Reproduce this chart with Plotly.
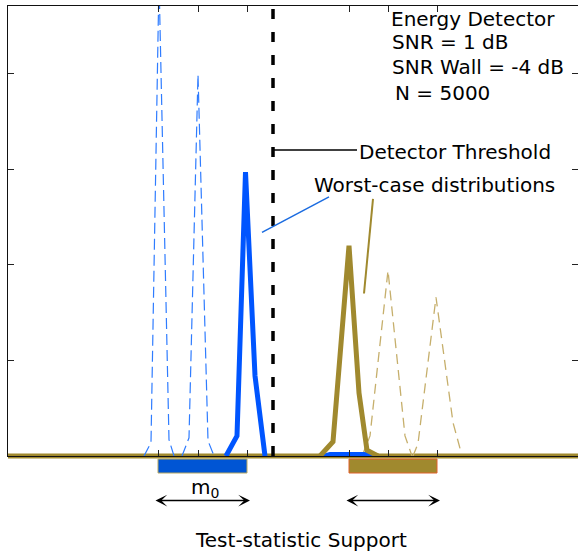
import plotly.graph_objects as go

# ---------------- data (test-statistic units, density units) ----------------
blue_d1_x = [136, 143, 151, 161, 166]
blue_d1_y = [0, 0.14, 4.98, 0.17, 0]
blue_d2_x = [174, 181, 190, 200, 206]
blue_d2_y = [0, 0.19, 3.99, 0.16, 0]
blue_w_x = [218, 229, 237.5, 247, 257]
blue_w_y = [0, 0.21, 2.97, 0.84, 0]
blue_tail_x = [315, 322, 362, 369]
blue_tail_y = [0, 0.02, 0.02, 0]

olive_w_x = [312, 325, 341, 351, 359, 370]
olive_w_y = [0, 0.15, 2.20, 0.66, 0.06, 0]
olive_d1_x = [354, 362, 380, 397, 404]
olive_d1_y = [0, 0.21, 1.94, 0.21, 0]
olive_d2_x = [405, 410, 428, 445, 452]
olive_d2_y = [0, 0.13, 1.66, 0.35, 0.08]

threshold_x = 265
blue_means = [150, 190, 239]
olive_means = [341, 380, 429]
tick_vals = blue_means + olive_means
y_ticks = [1, 2, 3, 4]

X_RANGE = [0, 570]
Y_RANGE = [0, 4.707]

BLUE = "#0055ff"
BLUE_D = "#2f7cff"
OLIVE = "#a0892e"
OLIVE_D = "#c6af6c"
FONT = "DejaVu Sans"

fig = go.Figure()

def line(x, y, color, width, dash=None):
    fig.add_trace(go.Scatter(x=x, y=y, mode="lines",
                             line=dict(color=color, width=width, dash=dash),
                             hoverinfo="skip", showlegend=False))

line(blue_d1_x, blue_d1_y, BLUE_D, 1.2, "11px,5px")
line(blue_d2_x, blue_d2_y, BLUE_D, 1.2, "11px,5px")
line(olive_d1_x, olive_d1_y, OLIVE_D, 1.3, "10px,6px")
line(olive_d2_x, olive_d2_y, OLIVE_D, 1.3, "10px,6px")
line(blue_tail_x, blue_tail_y, BLUE, 4)
line(blue_w_x, blue_w_y, BLUE, 5)
line(olive_w_x, olive_w_y, OLIVE, 5)
line([threshold_x, threshold_x], [0, Y_RANGE[1]], "black", 3.5, "10px,13px")

shapes = []
# olive baseline under the x axis line
shapes.append(dict(type="line", xref="paper", yref="paper", x0=0, x1=1, y0=0, y1=0,
                   line=dict(color=OLIVE, width=5), layer="below"))
# leader lines
shapes.append(dict(type="line", xref="x", yref="y", x0=266, x1=349, y0=3.20, y1=3.20,
                   line=dict(color="black", width=1.5)))
shapes.append(dict(type="line", xref="x", yref="y", x0=254, x1=321, y0=2.34, y1=2.71,
                   line=dict(color="#1a6be0", width=1.5)))
shapes.append(dict(type="line", xref="x", yref="y", x0=365, x1=356, y0=2.69, y1=1.70,
                   line=dict(color=OLIVE, width=2)))
# support rectangles below the axis
shapes.append(dict(type="rect", xref="x", yref="paper", x0=min(blue_means), x1=max(blue_means),
                   y0=-0.0378, y1=-0.0067, fillcolor="#0055d4",
                   line=dict(color="#b8a860", width=1)))
shapes.append(dict(type="rect", xref="x", yref="paper", x0=min(olive_means), x1=max(olive_means),
                   y0=-0.0378, y1=-0.0067, fillcolor=OLIVE,
                   line=dict(color="#e0602a", width=1)))

ann = []
def txt(s, x, y, xref="x", yref="y", xanchor="left"):
    ann.append(dict(text=s, x=x, y=y, xref=xref, yref=yref, xanchor=xanchor,
                    yanchor="middle", showarrow=False,
                    font=dict(family=FONT, size=20, color="black")))

txt("Energy Detector", 381, 4.571)
txt("SNR = 1 dB", 381.5, 4.335)
txt("SNR Wall = -4 dB", 381.5, 4.074)
txt("N = 5000", 385, 3.797)
txt("Detector Threshold", 349, 3.180)
txt("Worst-case distributions", 303.5, 2.837)
txt("m<sub>0</sub>", 197, -0.0722, yref="paper", xanchor="center")
txt("Test-statistic Support", 293, -0.1867, yref="paper", xanchor="center")

# double-headed support arrows
for means in (blue_means, olive_means):
    ann.append(dict(text="", x=max(means) + 3, y=-0.0989, xref="x", yref="paper",
                    ax=min(means) - 4, ay=0, axref="x", ayref="pixel",
                    showarrow=True, arrowhead=3, startarrowhead=3, arrowside="end+start",
                    arrowwidth=1.4, arrowsize=1.4, startarrowsize=1.4,
                    arrowcolor="black", standoff=0, startstandoff=0))

fig.update_layout(
    width=578, height=552,
    margin=dict(l=8, r=0, t=6, b=96),
    paper_bgcolor="white", plot_bgcolor="white",
    shapes=shapes, annotations=ann, showlegend=False,
    xaxis=dict(range=X_RANGE, tickvals=tick_vals, ticks="inside", ticklen=6,
               tickcolor="#222", tickwidth=1.2, showticklabels=False,
               showline=True, linecolor="#111", linewidth=1.3, mirror="ticks",
               showgrid=False, zeroline=False),
    yaxis=dict(range=Y_RANGE, tickvals=y_ticks, ticks="inside", ticklen=6,
               tickcolor="#222", tickwidth=1.2, showticklabels=False,
               showline=True, linecolor="#111", linewidth=1.3, mirror="ticks",
               showgrid=False, zeroline=False),
)

fig.write_html("out.html")
